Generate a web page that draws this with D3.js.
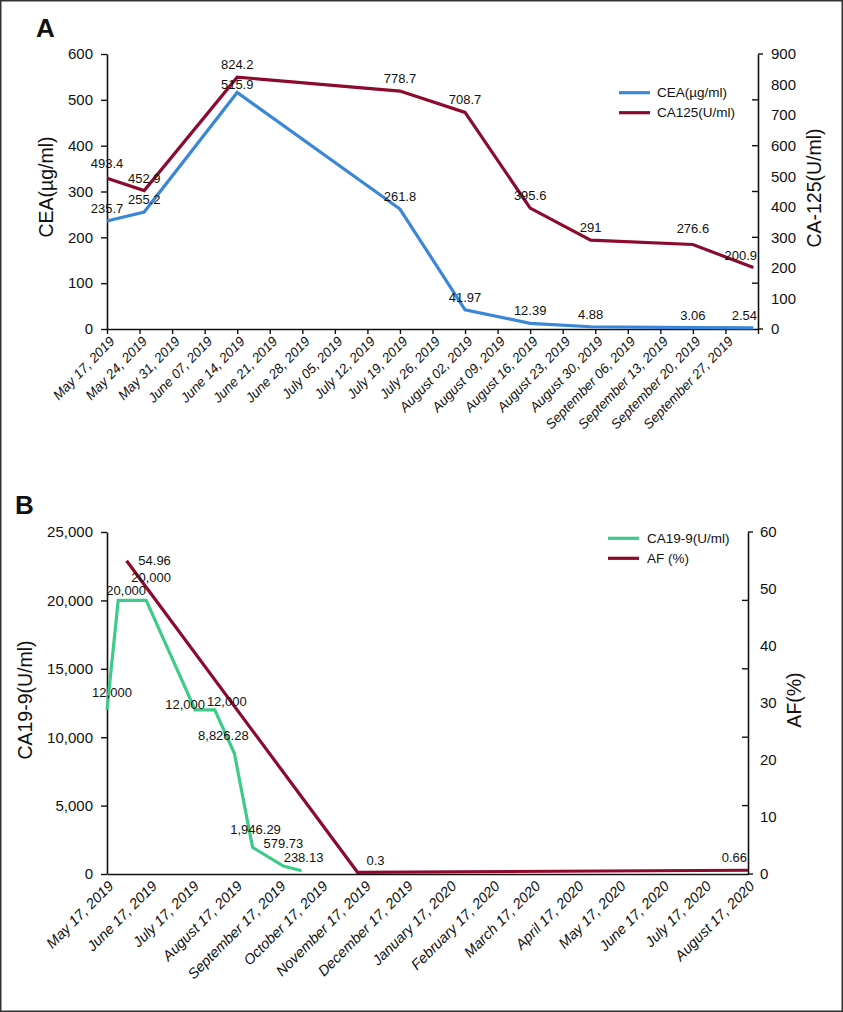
<!DOCTYPE html>
<html>
<head>
<meta charset="utf-8">
<script src="https://cdn.jsdelivr.net/npm/d3@7"></script>
<style>
  html, body { margin: 0; padding: 0; background: #fff; }
  svg { display: block; font-family: "Liberation Sans", Arial, Helvetica, sans-serif; }
</style>
</head>
<body>
<svg id="chart" width="843" height="1012"></svg>
<script>
// ---------------- DATA ----------------
// Panel A (weekly axis)
const datesA = ["2019-05-17","2019-05-25","2019-06-14","2019-07-19","2019-08-02","2019-08-16","2019-08-29","2019-09-20","2019-10-03"];
const ceaValues = [235.7, 255.2, 515.9, 261.8, 41.97, 12.39, 4.88, 3.06, 2.54];
const ca125Values = [493.4, 452.9, 824.2, 778.7, 708.7, 395.6, 291, 276.6, 200.9];
const ceaTicks = [0, 100, 200, 300, 400, 500, 600];
const ca125Ticks = [0, 100, 200, 300, 400, 500, 600, 700, 800, 900];
const axisStartA = "2019-05-17";
const axisEndA = "2019-10-04";

// Panel B (monthly axis)
const datesCA199 = ["2019-05-17","2019-05-25","2019-06-14","2019-07-19","2019-08-02","2019-08-16","2019-08-29","2019-09-20","2019-10-03"];
const ca199Values = [12000, 20000, 20000, 12000, 12000, 8826.28, 1946.29, 579.73, 238.13];
const datesAF = ["2019-05-31","2019-11-12","2020-08-17"];
const afValues = [54.96, 0.3, 0.66];
const ca199Ticks = [0, 5000, 10000, 15000, 20000, 25000];
const afTicks = [0, 10, 20, 30, 40, 50, 60];
const axisStartB = "2019-05-17";
const axisEndB = "2020-08-17";

// Legend / titles
const legendA = ["CEA(\u00b5g/ml)", "CA125(U/ml)"];
const legendB = ["CA19-9(U/ml)", "AF (%)"];

// ---------------- STYLE ----------------
const C_BLUE = "#3a86d8", C_RED = "#8b0a2d", C_GREEN = "#3ccb88";
const parse = d3.timeParse("%Y-%m-%d");
const fmtDate = d3.timeFormat("%B %d, %Y");
const svg = d3.select("#chart");

svg.append("rect").attr("x", 0.75).attr("y", 0.75).attr("width", 841.5).attr("height", 1010.5)
  .attr("fill", "#fff").attr("stroke", "#333").attr("stroke-width", 1.5);

function styleAxis(g) {
  g.selectAll("path.domain").attr("stroke", "#111").attr("stroke-width", 1.6);
  g.selectAll(".tick line").attr("stroke", "#111").attr("stroke-width", 1.4);
  g.selectAll(".tick text").attr("fill", "#111").style("font-size", "15px");
}

function drawLabels(g, pts, fmt, offs, xMin, xMax, defDy) {
  pts.forEach((p, i) => {
    const o = (offs && offs[i]) || [0, defDy];
    const t = g.append("text").attr("text-anchor", "middle")
      .style("font-size", "13px").attr("fill", "#111")
      .text(fmt(p.v));
    let x = p.x + o[0];
    const w = t.node().getComputedTextLength();
    if (x + w / 2 > xMax - 1) x = xMax - 1 - w / 2;
    t.attr("x", x).attr("y", p.y + o[1]);
  });
}

// ================= PANEL A =================
(function () {
  const L = 107, R = 758, T = 54, B = 329;
  const x = d3.scaleTime().domain([parse(axisStartA), parse(axisEndA)]).range([L, R]);
  const yL = d3.scaleLinear().domain([0, 600]).range([B, T]);
  const yR = d3.scaleLinear().domain([0, 900]).range([B, T]);
  const g = svg.append("g");

  g.append("text").attr("x", 36).attr("y", 37).style("font-size", "26px").style("font-weight", "bold")
    .attr("fill", "#111").text("A");

  const gl = g.append("g").attr("transform", `translate(${L},0)`)
    .call(d3.axisLeft(yL).tickValues(ceaTicks).tickSize(6).tickSizeOuter(0).tickPadding(8));
  styleAxis(gl);

  const gr = g.append("g").attr("transform", `translate(${R},0)`)
    .call(d3.axisRight(yR).tickValues(ca125Ticks).tickSize(0).tickSizeOuter(0).tickPadding(13));
  styleAxis(gr);
  ceaTicks.forEach((v, i) => {
    const ends = (i === 0 || i === ceaTicks.length - 1);
    gr.append("line").attr("x1", 0).attr("x2", ends ? 5 : -6)
      .attr("y1", yL(v)).attr("y2", yL(v)).attr("stroke", "#111").attr("stroke-width", 1.4);
  });

  const tickDates = d3.timeDay.range(parse(axisStartA), d3.timeDay.offset(parse(axisEndA), 1), 7);
  const gb = g.append("g").attr("transform", `translate(0,${B})`)
    .call(d3.axisBottom(x).tickValues(tickDates).tickSize(5).tickSizeOuter(0)
      .tickFormat((d, i) => i < tickDates.length - 1 ? fmtDate(d) : ""));
  styleAxis(gb);
  gb.selectAll(".tick text").attr("x", 0).attr("y", 0).attr("dy", 0)
    .attr("transform", "translate(8,13) rotate(-46)")
    .style("text-anchor", "end").style("font-size", "13.5px").style("font-style", "italic");

  g.append("text").attr("transform", `translate(53,187) rotate(-90)`).attr("text-anchor", "middle")
    .style("font-size", "19.5px").attr("fill", "#111").text("CEA(\u00b5g/ml)");
  g.append("text").attr("transform", `translate(821,188) rotate(-90)`).attr("text-anchor", "middle")
    .style("font-size", "19.5px").attr("fill", "#111").text("CA-125(U/ml)");

  const ceaPts = datesA.map((d, i) => ({ x: x(parse(d)), y: yL(ceaValues[i]), v: ceaValues[i] }));
  const caPts = datesA.map((d, i) => ({ x: x(parse(d)), y: yR(ca125Values[i]), v: ca125Values[i] }));
  const line = d3.line().x(d => d.x).y(d => d.y);
  g.append("path").attr("d", line(ceaPts)).attr("fill", "none").attr("stroke", C_BLUE).attr("stroke-width", 3.2);
  g.append("path").attr("d", line(caPts)).attr("fill", "none").attr("stroke", C_RED).attr("stroke-width", 3.2);

  const ceaOff = ceaPts.map((p, i) => [0, i === 2 ? -4 : -8]);
  const caOff = caPts.map((p, i) => [0, i === 0 ? -10 : (i === 7 ? -11 : -8)]);
  drawLabels(g, ceaPts, v => String(v), ceaOff, L, R, -8);
  drawLabels(g, caPts, v => String(v), caOff, L, R, -8);

  const lg = g.append("g");
  [C_BLUE, C_RED].forEach((c, i) => {
    const yy = 92.7 + i * 20;
    lg.append("line").attr("x1", 619).attr("x2", 650).attr("y1", yy).attr("y2", yy)
      .attr("stroke", c).attr("stroke-width", 3.2);
    lg.append("text").attr("x", 657).attr("y", yy).attr("dy", "0.35em")
      .style("font-size", "13.5px").attr("fill", "#111").text(legendA[i]);
  });
})();

// ================= PANEL B =================
(function () {
  const L = 107, R = 748, T = 532, B = 874;
  const x = d3.scaleTime().domain([parse(axisStartB), parse(axisEndB)]).range([L, R]);
  const yL = d3.scaleLinear().domain([0, 25000]).range([B, T]);
  const yR = d3.scaleLinear().domain([0, 60]).range([B, T]);
  const g = svg.append("g");

  g.append("text").attr("x", 15).attr("y", 514).style("font-size", "26px").style("font-weight", "bold")
    .attr("fill", "#111").text("B");

  const gl = g.append("g").attr("transform", `translate(${L},0)`)
    .call(d3.axisLeft(yL).tickValues(ca199Ticks).tickSize(6).tickSizeOuter(0).tickPadding(8)
      .tickFormat(d3.format(",")));
  styleAxis(gl);

  const gr = g.append("g").attr("transform", `translate(${R},0)`)
    .call(d3.axisRight(yR).tickValues(afTicks).tickSize(0).tickSizeOuter(0).tickPadding(12));
  styleAxis(gr);
  ca199Ticks.forEach((v, i) => {
    const ends = (i === 0 || i === ca199Ticks.length - 1);
    gr.append("line").attr("x1", 0).attr("x2", ends ? 5 : -6)
      .attr("y1", yL(v)).attr("y2", yL(v)).attr("stroke", "#111").attr("stroke-width", 1.4);
  });

  const monthTicks = d3.range(16).map(i => d3.timeMonth.offset(parse(axisStartB), i));
  const gb = g.append("g").attr("transform", `translate(0,${B})`)
    .call(d3.axisBottom(x).tickValues(monthTicks).tickSize(0).tickSizeOuter(0).tickFormat(fmtDate));
  styleAxis(gb);
  gb.selectAll(".tick text").attr("x", 0).attr("y", 0).attr("dy", 0)
    .attr("transform", "translate(7,13) rotate(-45)")
    .style("text-anchor", "end").style("font-size", "14.5px").style("font-style", "italic");

  g.append("text").attr("transform", `translate(32,700) rotate(-90)`).attr("text-anchor", "middle")
    .style("font-size", "19.5px").attr("fill", "#111").text("CA19-9(U/ml)");
  g.append("text").attr("transform", `translate(801,700) rotate(-90)`).attr("text-anchor", "middle")
    .style("font-size", "19.5px").attr("fill", "#111").text("AF(%)");

  const caPts = datesCA199.map((d, i) => ({ x: x(parse(d)), y: yL(ca199Values[i]), v: ca199Values[i] }));
  const afPts = datesAF.map((d, i) => ({ x: x(parse(d)), y: yR(afValues[i]), v: afValues[i] }));
  const line = d3.line().x(d => d.x).y(d => d.y);
  g.append("path").attr("d", line(caPts)).attr("fill", "none").attr("stroke", C_GREEN).attr("stroke-width", 3.2);
  g.append("path").attr("d", line(afPts)).attr("fill", "none").attr("stroke", C_RED).attr("stroke-width", 3.2);

  const caOff = [[5, -13], [8, -5], [5, -18], [-10, -1], [12, -4], [-11, -13], [3, -13], [0, -18], [2, -9]];
  const afOff = [[28, 4], [18, -7], [0, -8]];
  drawLabels(g, caPts, d3.format(","), caOff, L, R, -8);
  drawLabels(g, afPts, v => String(v), afOff, L, R, -8);

  const lg = g.append("g");
  [C_GREEN, C_RED].forEach((c, i) => {
    const yy = 538.3 + i * 20;
    lg.append("line").attr("x1", 608).attr("x2", 639).attr("y1", yy).attr("y2", yy)
      .attr("stroke", c).attr("stroke-width", 3.2);
    lg.append("text").attr("x", 647).attr("y", yy).attr("dy", "0.35em")
      .style("font-size", "13.5px").attr("fill", "#111").text(legendB[i]);
  });
})();
</script>
</body>
</html>
